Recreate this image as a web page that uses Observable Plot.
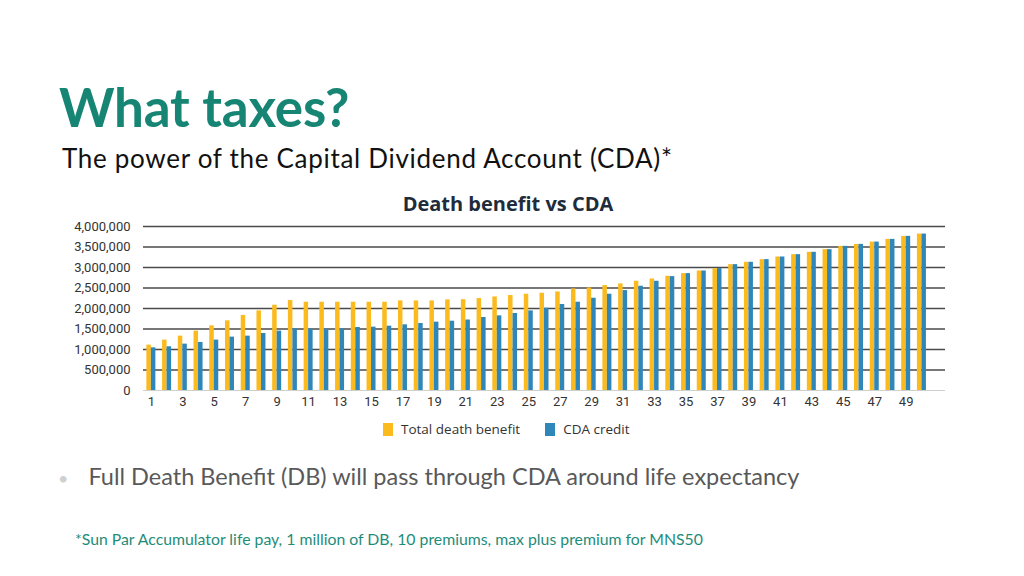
<!DOCTYPE html>
<html>
<head>
<meta charset="utf-8">
<script src="https://cdn.jsdelivr.net/npm/d3@7"></script>
<script src="https://cdn.jsdelivr.net/npm/@observablehq/plot@0.6"></script>
<style>
  html, body { margin: 0; padding: 0; background: #fff; }
  body { width: 1024px; height: 576px; position: relative; overflow: hidden; font-family: Lato, "Open Sans", sans-serif; }
  .abs { position: absolute; white-space: nowrap; }
  #title { left: 59px; top: 75px; font-size: 53px; font-weight: 700; color: #178573; letter-spacing: -0.2px; }
  #subtitle { left: 62px; top: 142px; font-size: 26px; color: #111; letter-spacing: 0.7px; }
  #ctitle { left: 0; width: 1016px; text-align: center; top: 190px; font-size: 20px; font-weight: 700; color: #1e2c3b; font-family: "Open Sans", Lato, sans-serif; }
  #chart { left: 0; top: 215px; }
  #legend { left: 383px; top: 420px; font-size: 13.5px; color: #333; font-family: "Open Sans", sans-serif; display: flex; align-items: center; }
  .sw { display: inline-block; width: 10px; height: 13px; margin-right: 8px; }
  #bullet { left: 58px; top: 462px; font-size: 23.5px; color: #595959; }
  #bullet .dot { color: #d0d0d0; font-size: 18px; margin-right: 20px; }
  #foot { left: 75px; top: 529px; font-size: 15.8px; color: #1f8c7a; }
</style>
</head>
<body>
<div id="title" class="abs">What taxes?</div>
<div id="subtitle" class="abs">The power of the Capital Dividend Account (CDA)*</div>
<div id="ctitle" class="abs">Death benefit vs CDA</div>
<div id="chart" class="abs"></div>
<div id="legend" class="abs"></div>
<div id="bullet" class="abs"><span class="dot">•</span>Full Death Benefit (DB) will pass through CDA around life expectancy</div>
<div id="foot" class="abs">*Sun Par Accumulator life pay, 1 million of DB, 10 premiums, max plus premium for MNS50</div>
<script>
const years = [1,2,3,4,5,6,7,8,9,10,11,12,13,14,15,16,17,18,19,20,21,22,23,24,25,26,27,28,29,30,31,32,33,34,35,36,37,38,39,40,41,42,43,44,45,46,47,48,49,50];
const totalDeathBenefit = [1107000,1229000,1326000,1448000,1577000,1699000,1830000,1942000,2080000,2194000,
  2153000,2153000,2153000,2153000,2153000,2153000,2185000,2185000,2185000,2210000,
  2215000,2243000,2282000,2316000,2348000,2372000,2404000,2477000,2501000,2560000,
  2600000,2664000,2720000,2786000,2851000,2915000,2973000,3070000,3127000,3192000,
  3256000,3313000,3370000,3435000,3516000,3564000,3620000,3686000,3759000,3815000];
const cdaCredit = [1040000,1066000,1131000,1172000,1229000,1302000,1326000,1390000,1448000,1504000,
  1496000,1496000,1500000,1537000,1545000,1569000,1602000,1634000,1667000,1690000,
  1719000,1781000,1820000,1878000,1942000,2007000,2097000,2153000,2250000,2348000,
  2437000,2543000,2664000,2778000,2851000,2915000,2973000,3070000,3127000,3192000,
  3256000,3313000,3370000,3435000,3516000,3564000,3620000,3686000,3759000,3815000];
const seriesNames = ["Total death benefit", "CDA credit"];
const seriesColors = ["#fbbb1f", "#2f86b8"];
const xDomain = [...years, 51];
const xTicks = [1,3,5,7,9,11,13,15,17,19,21,23,25,27,29,31,33,35,37,39,41,43,45,47,49];
const yTicks = [0,500000,1000000,1500000,2000000,2500000,3000000,3500000,4000000];

const dbData = years.map((yr, i) => ({year: yr, value: totalDeathBenefit[i]}));
const cdaData = years.map((yr, i) => ({year: yr, value: cdaCredit[i]}));

const bw = (945 - 143) / xDomain.length;
const barW = 4.5;

const plot = Plot.plot({
  width: 1024,
  height: 200,
  marginLeft: 143,
  marginRight: 79,
  marginTop: 11,
  marginBottom: 25,
  style: {fontFamily: "Roboto, sans-serif", fontSize: "13px", color: "#333", background: "transparent"},
  x: {type: "band", domain: xDomain, padding: 0, ticks: xTicks, tickSize: 0, tickPadding: 6, label: null},
  y: {domain: [0, 4000000], ticks: yTicks, tickFormat: d3.format(","), tickSize: 0, tickPadding: 13, label: null},
  marks: [
    Plot.ruleY(yTicks.filter(d => d > 0), {stroke: "#4a4a4a", strokeWidth: 1.4}),
    Plot.ruleY([0], {stroke: "#cfcfcf", strokeWidth: 1}),
    Plot.barY(dbData, {x: "year", y: "value", fill: seriesColors[0], insetLeft: bw / 2 - barW, insetRight: bw / 2}),
    Plot.barY(cdaData, {x: "year", y: "value", fill: seriesColors[1], insetLeft: bw / 2, insetRight: bw / 2 - barW})
  ]
});
document.getElementById("chart").appendChild(plot);

const legend = document.getElementById("legend");
seriesNames.forEach((name, i) => {
  const item = document.createElement("span");
  item.style.display = "inline-flex";
  item.style.alignItems = "center";
  item.style.marginRight = i === 0 ? "25px" : "0";
  item.innerHTML = `<span class="sw" style="background:${seriesColors[i]}"></span>${name}`;
  legend.appendChild(item);
});
</script>
</body>
</html>
